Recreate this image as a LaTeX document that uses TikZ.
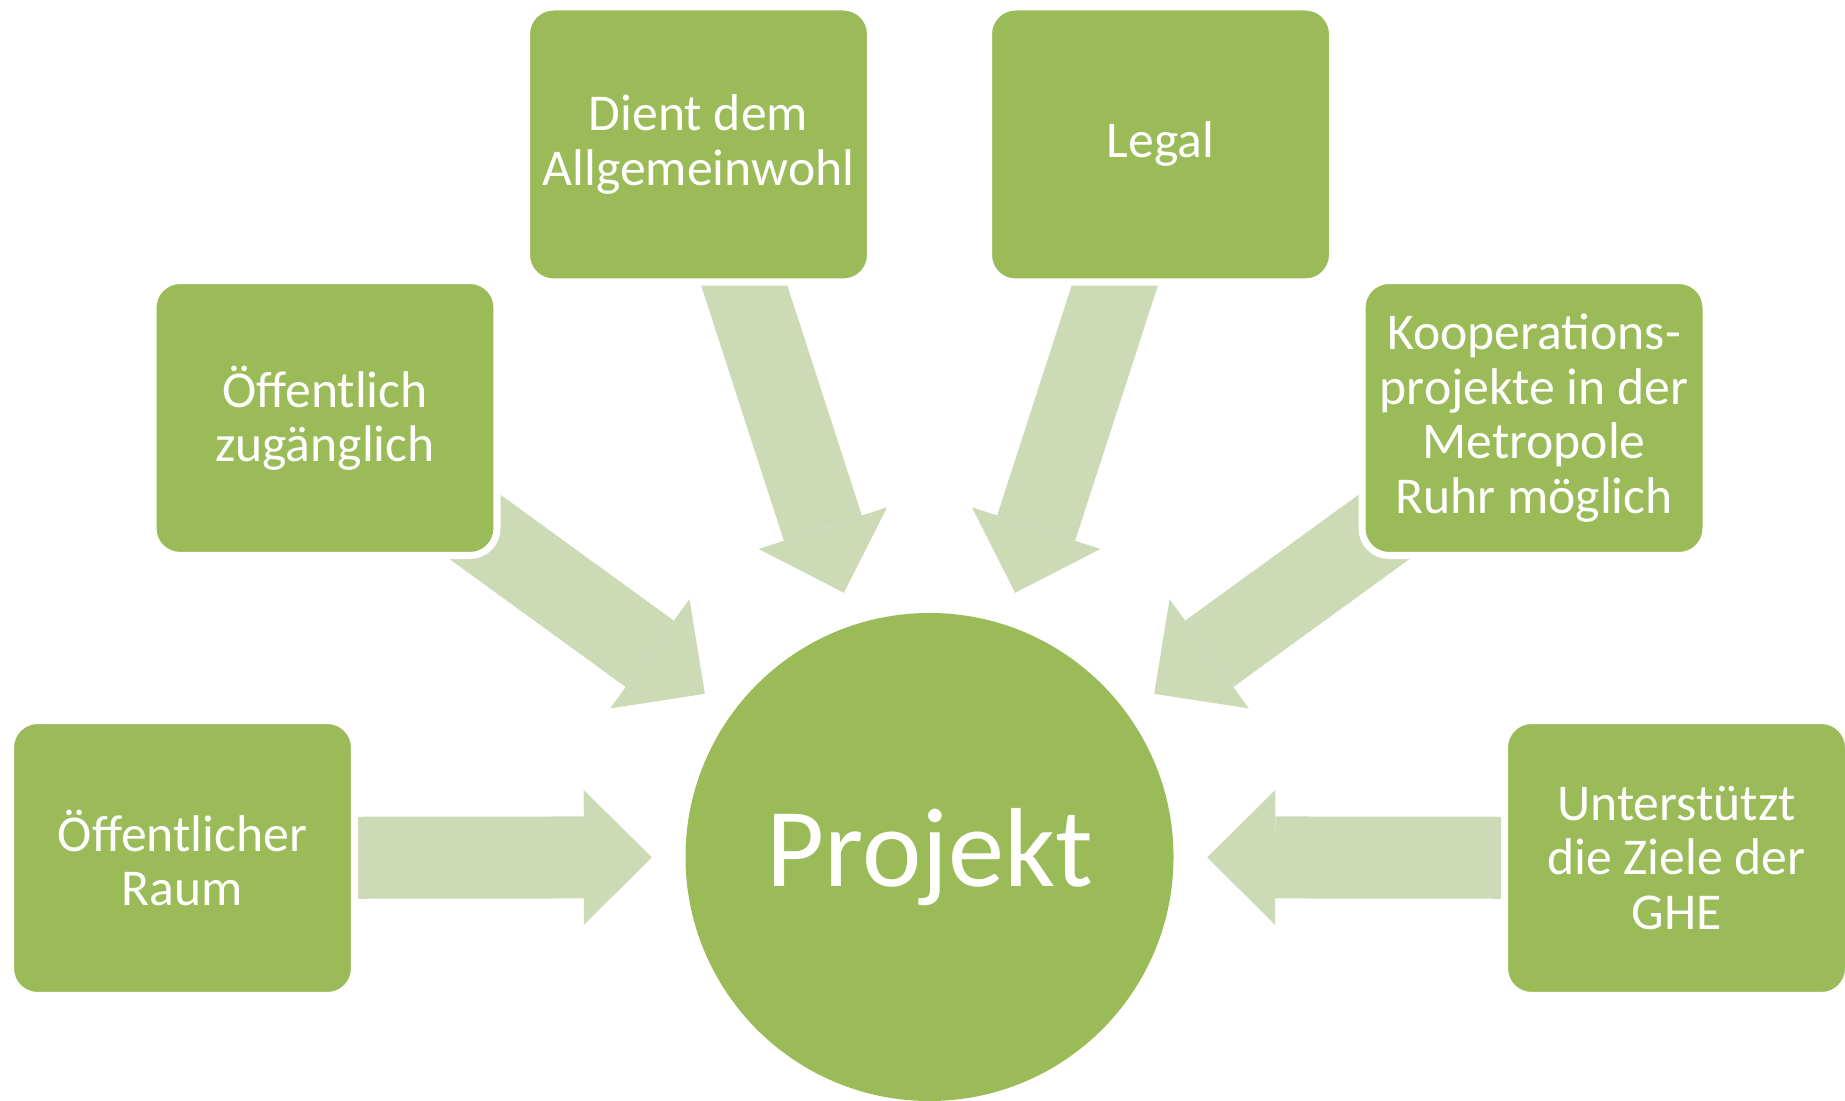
\documentclass[tikz,border=0pt]{standalone}
\usepackage{fontspec}
\setmainfont{Carlito}
\usetikzlibrary{arrows.meta,backgrounds}
\definecolor{gruen}{HTML}{9BBB59}
\definecolor{blass}{HTML}{CCDAB6}
\tikzset{
    kasten/.style={rectangle, rounded corners=0.27cm, fill=gruen, draw=white, line width=2pt,
        minimum width=3.44cm, minimum height=2.75cm, text=white, align=center,
        font=\fontsize{14.7}{15.5}\selectfont},
    pfeil/.style={draw=blass, line width=0.82cm,
        -{Triangle[length=0.68cm, width=1.35cm, line width=0pt]}, shorten >=0.33cm}
}
\begin{document}
\begin{tikzpicture}
    \useasboundingbox (0,0) rectangle (18.45,11);

    \node[circle, fill=gruen, minimum size=4.88cm, inner sep=0pt, text=white,
        font=\fontsize{32}{38}\selectfont] (hub) at (9.295, 2.43) {Projekt};

    \node[kasten] (raum)  at (1.825, 2.42)  {Öffentlicher\\Raum};
    \node[kasten] (zug)   at (3.25, 6.82)   {Öffentlich\\zugänglich};
    \node[kasten] (allg)  at (6.985, 9.555) {Dient dem\\Allgemeinwohl};
    \node[kasten] (legal) at (11.605, 9.555) {Legal};
    \node[kasten] (koop)  at (15.34, 6.82)  {Kooperations-\\projekte in der\\Metropole\\Ruhr möglich};
    \node[kasten] (unter) at (16.765, 2.42) {Unterstützt\\die Ziele der\\GHE};

    \begin{scope}[on background layer]
        \foreach \n in {raum, zug, allg, legal, koop, unter}
            \draw[pfeil] (\n.center) -- (hub);
    \end{scope}
\end{tikzpicture}
\end{document}
